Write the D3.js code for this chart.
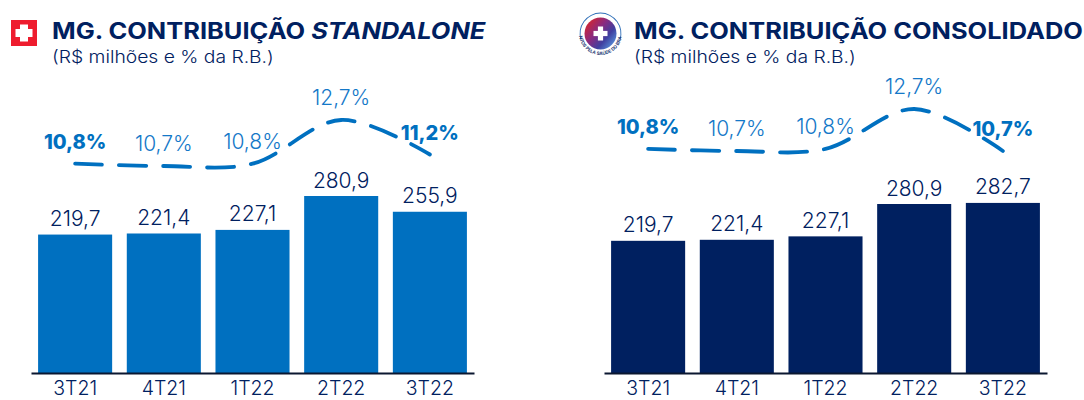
<!DOCTYPE html>
<html>
<head>
<meta charset="utf-8">
<style>
	html, body { margin: 0; padding: 0; background: #fff; overflow: hidden; }
	svg { display: block; }
	text { font-family: "Inter", "Noto Sans", sans-serif; }
</style>
</head>
<body>
<div id="chart"></div>
<script src="https://d3js.org/d3.v7.min.js"></script>
<script>
	// -----Data-----
	const quarters = ["3T21", "4T21", "1T22", "2T22", "3T22"]

	const standalone_values = [219.7, 221.4, 227.1, 280.9, 255.9]
	const standalone_pct = [10.8, 10.7, 10.8, 12.7, 11.2]
	const standalone_bold = ["3T21", "3T22"]

	const consolidado_values = [219.7, 221.4, 227.1, 280.9, 282.7]
	const consolidado_pct = [10.8, 10.7, 10.8, 12.7, 10.7]
	const consolidado_bold = ["3T21", "3T22"]

	const subtitle = "(R$ milhões e % da R.B.)"
	const logo_text = "JUNTOS PELA SAÚDE DO BRASIL"

	// -----Definitions-----
	const navy = "#002060"
	const blue = "#0070c0"
	const light_blue = "#1478c8"
	const baseline = 373
	const comma = d3.format(".1f")
	const fmt = v => comma(v).replace(".", ",")

	const svg = d3.select("#chart")
		.append("svg")
		.attr("width", 1084)
		.attr("height", 400)

	// Gradient and text arc for the round logo
	const defs = svg.append("defs")
	const grad = defs.append("linearGradient")
		.attr("id", "logo_grad")
		.attr("x1", "5%").attr("y1", "15%")
		.attr("x2", "95%").attr("y2", "90%")
	grad.append("stop").attr("offset", "0%").attr("stop-color", "#d4242f")
	grad.append("stop").attr("offset", "38%").attr("stop-color", "#8a2a80")
	grad.append("stop").attr("offset", "68%").attr("stop-color", "#3f3fa0")
	grad.append("stop").attr("offset", "100%").attr("stop-color", "#5a9be0")
	const arc_bottom = d3.path()
	arc_bottom.arc(0, 0, 21.5, Math.PI * 0.95, Math.PI * 0.05, true)
	defs.append("path").attr("id", "logo_arc_bottom").attr("d", arc_bottom.toString())

	// One panel: bars, smoothed dashed margin line, labels and axis
	function draw_panel(opt) {
		const x = d3.scaleBand()
			.domain(quarters)
			.range([opt.left, opt.left + 443])
			.paddingInner(0.165)
			.paddingOuter(0.08)

		const y = d3.scaleLinear()
			.domain([0, 280.9])
			.range([baseline, opt.bar_top])

		const y_pct = d3.scaleLinear()
			.domain([10.7, 12.7])
			.range([opt.pct_low, opt.pct_high])

		const g = svg.append("g")
		const rows = quarters.map((q, i) => ({q: q, value: opt.values[i], pct: opt.pct[i]}))

		// Bars
		g.selectAll("rect.bar")
			.data(rows)
			.join("rect")
			.attr("class", "bar")
			.attr("x", d => x(d.q))
			.attr("y", d => y(d.value))
			.attr("width", x.bandwidth())
			.attr("height", d => baseline - y(d.value))
			.attr("fill", opt.color)

		// Value labels
		g.selectAll("text.value")
			.data(rows)
			.join("text")
			.attr("class", "value")
			.attr("x", d => x(d.q) + x.bandwidth() / 2)
			.attr("y", d => y(d.value) - 8.5)
			.attr("text-anchor", "middle")
			.attr("font-size", 21)
			.attr("font-weight", 300)
			.attr("fill", navy)
			.text(d => fmt(d.value))

		// Margin line
		const line = d3.line()
			.x(d => x(d.q) + x.bandwidth() / 2)
			.y(d => y_pct(d.pct))
			.curve(d3.curveCatmullRom.alpha(0.5))

		g.append("path")
			.datum(rows)
			.attr("d", line)
			.attr("fill", "none")
			.attr("stroke", blue)
			.attr("stroke-width", 3.8)
			.attr("stroke-linecap", "round")
			.attr("stroke-dasharray", "27 17")

		// Margin labels
		g.selectAll("text.pct")
			.data(rows)
			.join("text")
			.attr("class", "pct")
			.attr("x", d => x(d.q) + x.bandwidth() / 2)
			.attr("y", d => y_pct(d.pct) - 15)
			.attr("text-anchor", "middle")
			.attr("font-size", d => opt.bold.includes(d.q) ? 20 : 21)
			.attr("font-weight", d => opt.bold.includes(d.q) ? 800 : 300)
			.attr("fill", d => opt.bold.includes(d.q) ? blue : light_blue)
			.text(d => fmt(d.pct) + "%")

		// X axis
		const axis = g.append("g")
			.attr("transform", "translate(0," + baseline + ")")
			.call(d3.axisBottom(x).tickSize(0).tickPadding(8))
		axis.select(".domain")
			.attr("stroke", "#0b1730")
			.attr("stroke-width", 2)
		axis.selectAll("text")
			.attr("font-family", "Inter")
			.attr("font-size", 19.5)
			.attr("font-weight", 300)
			.attr("fill", navy)

		// Titles, stretched sideways since the original face is wider than Inter
		const title = g.append("text")
			.attr("transform", "translate(" + opt.title_x + ",39) scale(1.13,1)")
			.attr("font-size", 22.5)
			.attr("font-weight", 700)
			.attr("fill", navy)
		title.append("tspan").text(opt.title)
		if (opt.title_it) {
			title.append("tspan").attr("font-style", "italic").text(opt.title_it)
		}
		g.append("text")
			.attr("transform", "translate(" + opt.title_x + ",63) scale(1.135,1)")
			.attr("font-size", 17)
			.attr("font-weight", 300)
			.attr("fill", navy)
			.text(subtitle)
	}

	draw_panel({
		left: 31, color: blue, values: standalone_values, pct: standalone_pct, bold: standalone_bold,
		bar_top: 196, pct_low: 166, pct_high: 120, title_x: 52,
		title: "MG. CONTRIBUIÇÃO ", title_it: "STANDALONE"
	})

	draw_panel({
		left: 604, color: navy, values: consolidado_values, pct: consolidado_pct, bold: consolidado_bold,
		bar_top: 204, pct_low: 151, pct_high: 109, title_x: 634,
		title: "MG. CONTRIBUIÇÃO CONSOLIDADO"
	})

	// Swiss flag icon
	const flag = svg.append("g")
	flag.append("rect").attr("x", 11).attr("y", 20).attr("width", 26).attr("height", 26).attr("fill", "#ee1c2e")
	flag.append("rect").attr("x", 20).attr("y", 24.5).attr("width", 8).attr("height", 17).attr("fill", "#fff")
	flag.append("rect").attr("x", 15.5).attr("y", 29).attr("width", 17).attr("height", 8).attr("fill", "#fff")

	// Round logo
	const logo = svg.append("g").attr("transform", "translate(600.5,33.5)")
	logo.append("circle").attr("r", 16).attr("fill", "url(#logo_grad)")
	logo.append("path")
		.attr("d", d3.arc()({innerRadius: 20, outerRadius: 20.9, startAngle: -Math.PI * 0.6, endAngle: Math.PI * 0.6}))
		.attr("fill", "#2f6fb8")
	logo.append("text")
		.attr("font-size", 4.6)
		.attr("font-weight", 700)
		.attr("fill", "#1f3a75")
		.append("textPath")
		.attr("href", "#logo_arc_bottom")
		.attr("startOffset", "50%")
		.attr("text-anchor", "middle")
		.text(logo_text)
	logo.append("rect").attr("x", -2.6).attr("y", -7).attr("width", 5.2).attr("height", 14).attr("fill", "#fff")
	logo.append("rect").attr("x", -7).attr("y", -2.6).attr("width", 14).attr("height", 5.2).attr("fill", "#fff")
</script>
</body>
</html>
